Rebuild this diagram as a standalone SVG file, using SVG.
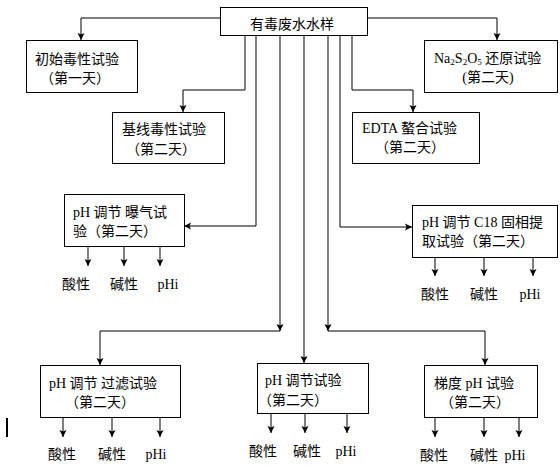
<svg xmlns="http://www.w3.org/2000/svg" width="560" height="473" viewBox="0 0 560 473">
<style>
.box{fill:#fff;stroke:#000;stroke-width:1}
.ln{fill:none;stroke:#000;stroke-width:1}
.ar{marker-end:url(#ah)}
text{font-family:"Liberation Serif","Noto Sans CJK SC",serif;font-size:14px;fill:#000}
.m{text-anchor:middle}
</style>
<defs>
<marker id="ah" markerUnits="userSpaceOnUse" markerWidth="8" markerHeight="8" refX="7" refY="4" orient="auto">
<path d="M0,0.5 L7,4 L0,7.5 L1.5,4 Z" fill="#000"/>
</marker>
</defs>
<rect width="560" height="473" fill="#fff"/>
<g id="connectors">
<path class="ln ar" d="M220,18 H81 V40"/>
<path class="ln ar" d="M367,18 H497 V40"/>
<path class="ln ar" d="M245,35 V90 H183 V112"/>
<path class="ln ar" d="M352,35 V90 H413 V112"/>
<path class="ln ar" d="M256,35 V226 H184"/>
<path class="ln ar" d="M340,35 V227 H412"/>
<path class="ln ar" d="M280,35 V331"/>
<path class="ln ar" d="M280,331 H100 V365"/>
<path class="ln ar" d="M328,35 V331"/>
<path class="ln ar" d="M328,331 H485 V365"/>
<path class="ln ar" d="M304,35 V363"/>
<path class="ln ar" d="M88,246 V266"/>
<path class="ln ar" d="M124,246 V266"/>
<path class="ln ar" d="M160,246 V266"/>
<path class="ln ar" d="M435,257 V276"/>
<path class="ln ar" d="M484,257 V276"/>
<path class="ln ar" d="M533,257 V276"/>
<path class="ln ar" d="M63,417 V437"/>
<path class="ln ar" d="M112,417 V437"/>
<path class="ln ar" d="M160,417 V437"/>
<path class="ln ar" d="M271,413 V433"/>
<path class="ln ar" d="M305,413 V433"/>
<path class="ln ar" d="M347,413 V433"/>
<path class="ln ar" d="M435,417 V437"/>
<path class="ln ar" d="M484,417 V437"/>
<path class="ln ar" d="M519,417 V437"/>
</g>
<g id="n-source">
<rect class="box" x="220.5" y="7.5" width="147" height="28"/>
<text class="m" x="292" y="29">有毒废水水样</text>
</g>
<g id="n-initial">
<rect class="box" x="26.5" y="40.5" width="111" height="52"/>
<text class="m" x="77" y="64">初始毒性试验</text>
<text class="m" x="75" y="83">（第一天）</text>
</g>
<g id="n-baseline">
<rect class="box" x="112.5" y="112.5" width="112" height="51"/>
<text x="122" y="134">基线毒性试验</text>
<text x="126" y="154">（第二天）</text>
</g>
<g id="n-na2s2o5">
<rect class="box" x="424.5" y="40.5" width="133" height="52"/>
<text x="434" y="63">Na<tspan font-size="9" dy="2">2</tspan><tspan dy="-2">S</tspan><tspan font-size="9" dy="2">2</tspan><tspan dy="-2">O</tspan><tspan font-size="9" dy="2">5</tspan><tspan dy="-2"> 还原试验</tspan></text>
<text class="m" x="488" y="82">(第二天)</text>
</g>
<g id="n-edta">
<rect class="box" x="352.5" y="112.5" width="127" height="51"/>
<text x="362" y="133">EDTA 螯合试验</text>
<text x="375" y="152">（第二天）</text>
</g>
<g id="n-aeration">
<rect class="box" x="64.5" y="194.5" width="120" height="52"/>
<text x="73" y="217">pH 调节 曝气试</text>
<text x="73" y="236">验（第二天）</text>
<text class="m" x="76" y="289">酸性</text>
<text class="m" x="124" y="289">碱性</text>
<text class="m" x="168" y="289">pHi</text>
</g>
<g id="n-c18">
<rect class="box" x="412.5" y="205.5" width="145" height="52"/>
<text x="422" y="227">pH 调节 C18 固相提</text>
<text x="422" y="246">取试验（第二天）</text>
<text class="m" x="435" y="299">酸性</text>
<text class="m" x="484" y="299">碱性</text>
<text class="m" x="530" y="299">pHi</text>
</g>
<g id="n-filter">
<rect class="box" x="40.5" y="365.5" width="140" height="52"/>
<text x="49" y="388">pH 调节 过滤试验</text>
<text x="65" y="407">（第二天）</text>
<text class="m" x="62" y="459">酸性</text>
<text class="m" x="112" y="459">碱性</text>
<text class="m" x="156" y="459">pHi</text>
</g>
<g id="n-ph">
<rect class="box" x="257.5" y="363.5" width="111" height="50"/>
<text x="265" y="385">pH 调节试验</text>
<text x="258" y="405">（第二天）</text>
<text class="m" x="263" y="456">酸性</text>
<text class="m" x="307" y="456">碱性</text>
<text class="m" x="346" y="456">pHi</text>
</g>
<g id="n-gradient">
<rect class="box" x="424.5" y="365.5" width="113" height="52"/>
<text x="434" y="388">梯度 pH 试验</text>
<text x="440" y="407">（第二天）</text>
<text class="m" x="434" y="460">酸性</text>
<text class="m" x="484" y="460">碱性</text>
<text class="m" x="515" y="460">pHi</text>
</g>
<line x1="7" y1="418" x2="7" y2="437" stroke="#000" stroke-width="2"/>
</svg>
